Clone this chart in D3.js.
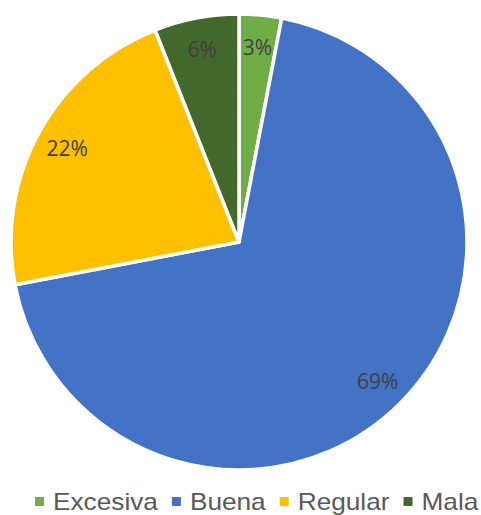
<!DOCTYPE html>
<html>
<head>
<meta charset="utf-8">
<script src="https://cdn.jsdelivr.net/npm/d3@7"></script>
<style>
  html, body { margin: 0; padding: 0; background: #fff; }
  svg { display: block; }
</style>
</head>
<body>
<svg id="chart" width="481" height="515"></svg>
<script>
// Share of responses by category (percent)
const categories = ["Excesiva", "Buena", "Regular", "Mala"];
const values = [3, 69, 22, 6];
const colors = ["#70AD47", "#4472C4", "#FFC000", "#43682B"];

const svg = d3.select("#chart");
const cx = 239, cy = 242, radius = 228;

const pie = d3.pie().sort(null).value(d => d.value);
const data = categories.map((c, i) => ({ name: c, value: values[i] }));
const arcs = pie(data);

const color = d3.scaleOrdinal().domain(categories).range(colors);
const arc = d3.arc().innerRadius(0).outerRadius(radius);
const labelArc = d3.arc().innerRadius(196).outerRadius(196);

const g = svg.append("g").attr("transform", `translate(${cx},${cy})`);

g.selectAll("path.slice")
  .data(arcs)
  .join("path")
  .attr("class", "slice")
  .attr("d", arc)
  .attr("fill", d => color(d.data.name))
  .attr("stroke", "#fff")
  .attr("stroke-width", 3.5)
  .attr("stroke-linejoin", "round");

g.selectAll("text.lbl")
  .data(arcs)
  .join("text")
  .attr("class", "lbl")
  .attr("transform", d => `translate(${labelArc.centroid(d)})`)
  .attr("text-anchor", "middle")
  .attr("dominant-baseline", "central")
  .attr("font-family", "'Open Sans', 'Noto Sans', sans-serif")
  .attr("font-size", 21)
  .attr("fill", "#404040")
  .text(d => d3.format(".0f")(d.data.value) + "%");

// Legend along the bottom
const legend = svg.append("g").attr("transform", "translate(35,502)");
let x = 0;
categories.forEach((c, i) => {
  const item = legend.append("g").attr("transform", `translate(${x},0)`);
  item.append("rect")
    .attr("x", 0).attr("y", -5)
    .attr("width", 9).attr("height", 9)
    .attr("fill", color(c));
  const t = item.append("text")
    .attr("x", 0).attr("y", 0)
    .attr("dominant-baseline", "central")
    .attr("font-family", "'Liberation Sans', Arial, sans-serif")
    .attr("font-size", 23)
    .attr("fill", "#595959")
    .attr("transform", "translate(18,0) scale(1.14,1)")
    .text(c);
  const w = t.node().getComputedTextLength() * 1.14;
  x += 18 + w + 14;
});
</script>
</body>
</html>
